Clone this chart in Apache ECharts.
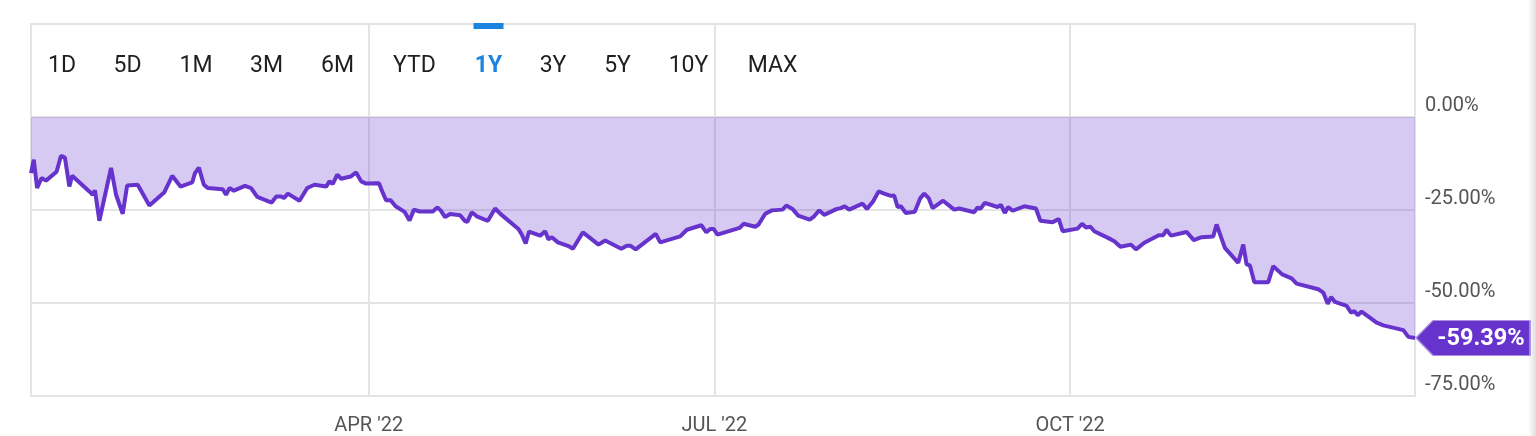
<!DOCTYPE html>
<html>
<head>
<meta charset="utf-8">
<script src="https://cdn.jsdelivr.net/npm/echarts@6/dist/echarts.min.js"></script>
<style>
  html, body { margin: 0; padding: 0; background: #fff; }
  #chart { width: 1536px; height: 436px; }
</style>
</head>
<body>
<div id="chart"></div>
<script>
// x = trading session number (0 = first session of the window), y = % change
var dayIdx = [
  0, 0.5, 1.1, 1.9, 2.7, 4.6, 5.4, 6.1, 6.9, 7.4, 10.5, 11.1, 11.5, 12.3, 14.4, 15.3, 16.5, 17.3, 19.2, 21.3,
  24.0, 25.4, 26.9, 29.0, 29.5, 30.2, 31.1, 31.8, 34.5, 35.1, 35.7, 36.5, 38.5, 39.6, 40.7, 43.3, 44.1, 45.0,
  45.5, 46.2, 48.3, 49.7, 51.0, 53.1, 53.7, 54.3, 55.1, 55.8, 57.5, 58.5, 59.4, 60.3,
  62.6, 63.3, 63.9, 64.7, 65.6, 67.2, 68.1, 68.9, 69.9, 72.3, 73.1, 73.7, 74.5, 75.4, 77.2, 78.1, 78.5, 79.3,
  80.2, 82.2, 83.5, 84.5, 87.7, 88.3, 89.0, 89.6, 91.6, 92.5, 93.1, 93.7, 94.8, 96.7, 97.5, 99.3, 102.1, 103.3,
  106.2, 107.2, 107.8, 108.8, 112.4, 113.2, 116.8, 118.0, 120.6, 121.5, 122.2, 122.8,
  123.5, 127.5, 128.2, 130.3, 130.9, 132.1, 133.3, 135.2, 135.9, 137.0, 138.0, 140.1, 140.9, 141.8, 142.7,
  145.0, 145.7, 146.4, 147.2, 149.6, 150.4, 151.5, 152.5, 153.5, 154.7, 155.3, 155.9, 156.5, 157.4, 159.0,
  160.0, 160.7, 161.5, 162.2, 164.1, 166.1, 167.0, 169.7, 170.3, 170.8, 171.6, 173.9, 174.5, 175.2, 175.8,
  176.6, 178.7, 180.8, 181.6, 183.8, 184.1, 184.9, 185.6,
  188.3, 189.1, 189.8, 190.6, 191.3, 194.3, 194.9, 196.0, 197.9, 198.8, 200.3, 202.9, 203.7, 204.3, 205.1,
  207.9, 209.2, 210.6, 212.7, 213.3, 214.8, 217.2, 217.5, 218.1, 218.7, 219.3, 220.1, 222.6, 223.5, 225.1,
  226.8, 227.7, 231.6, 232.5, 233.3, 233.9, 234.6, 236.7, 237.5, 238.1, 238.7, 239.4, 242.1, 243.3, 246.9,
  247.8, 249
];
var pctChange = [
  -15.1, -11.5, -19.1, -16.4, -17.1, -14.7, -10.4, -10.9, -18.7, -15.8, -20.0, -20.9, -19.7, -27.9, -13.7, -20.9, -26.0, -18.4, -18.2, -23.8,
  -20.2, -15.8, -18.7, -17.6, -15.1, -13.6, -18.2, -19.1, -19.4, -20.9, -19.1, -19.8, -18.5, -19.1, -21.5, -23.0, -21.4, -21.4,
  -21.8, -20.6, -22.5, -19.1, -18.2, -18.7, -17.3, -18.0, -15.5, -16.6, -16.0, -14.9, -17.3, -17.9,
  -17.8, -20.4, -22.4, -22.4, -24.0, -25.5, -27.8, -24.9, -25.4, -25.4, -24.3, -25.1, -26.9, -26.1, -26.4, -28.0, -28.2, -25.6,
  -26.7, -27.9, -24.6, -26.1, -30.1, -31.6, -34.0, -30.8, -31.9, -30.7, -32.9, -32.3, -33.7, -34.7, -35.4, -31.0, -34.3, -33.2,
  -35.4, -34.6, -34.6, -35.6, -31.4, -33.7, -32.1, -30.3, -29.1, -31.0, -30.1, -30.1,
  -31.6, -29.8, -28.7, -29.5, -28.9, -26.0, -25.1, -24.9, -23.8, -24.7, -26.5, -27.6, -26.7, -25.1, -26.3,
  -24.7, -24.5, -24.0, -24.9, -23.3, -24.7, -22.7, -20.0, -20.6, -21.2, -21.1, -24.2, -24.0, -25.8, -25.5,
  -21.8, -20.6, -21.8, -24.5, -22.5, -24.9, -24.6, -25.6, -24.3, -24.7, -23.1, -24.2, -23.6, -25.8, -24.2,
  -25.2, -24.0, -24.6, -27.9, -28.3, -28.7, -27.4, -30.7,
  -30.0, -28.7, -29.7, -29.5, -30.7, -32.9, -33.4, -34.9, -34.3, -35.6, -33.8, -31.8, -31.8, -30.3, -31.9,
  -30.9, -33.1, -32.3, -32.1, -28.9, -35.2, -39.2, -39.6, -34.3, -39.6, -39.9, -44.4, -44.4, -40.1, -42.3,
  -43.4, -44.8, -46.3, -47.2, -50.2, -48.4, -49.7, -50.8, -52.6, -52.2, -53.3, -52.3, -55.3, -56.0, -57.3,
  -59.1, -59.39
];

// month boundaries on the session scale, and their labels
var monthTicks = [60.75, 122.95, 186.95];
var monthLabels = ["APR '22", "JUL '22", "OCT '22"];

var rangeButtons = ['1D', '5D', '1M', '3M', '6M', 'YTD', '1Y', '3Y', '5Y', '10Y', 'MAX'];
var activeRange = '1Y';

var purple = '#6633cc';
var seriesData = [];
for (var i = 0; i < Math.min(dayIdx.length, pctChange.length); i++) {
  seriesData.push([dayIdx[i], pctChange[i]]);
}
var last = seriesData[seriesData.length - 1];

// range selector row (UI chrome, not data)
var buttonX = [62, 127.5, 196, 266.5, 337.5, 414.5, 488.5, 553, 617.5, 688.5, 772.5];
var graphics = [];
rangeButtons.forEach(function (b, k) {
  var on = b === activeRange;
  graphics.push({
    type: 'text', x: buttonX[k], y: 66, z: 10,
    style: {
      text: b, align: 'center', verticalAlign: 'middle',
      font: (on ? 'bold ' : '') + '23px Roboto',
      fill: on ? '#1a84e0' : '#1f1f1f'
    }
  });
  if (on) {
    graphics.push({
      type: 'rect', z: 10,
      shape: { x: buttonX[k] - 15, y: 23, width: 30, height: 6 },
      style: { fill: '#1a84e0' }
    });
  }
});
graphics.push({
  type: 'rect', z: 0,
  shape: { x: 1528, y: 0, width: 8, height: 436 },
  style: {
    fill: new echarts.graphic.LinearGradient(0, 0, 1, 0, [
      { offset: 0, color: 'rgba(0,0,0,0)' },
      { offset: 1, color: 'rgba(0,0,0,0.13)' }
    ])
  }
});

var myChart = echarts.init(document.getElementById('chart'));
myChart.setOption({
  animation: false,
  backgroundColor: '#fff',
  grid: {
    left: 31, right: 121, top: 24, bottom: 39,
    show: true, borderColor: '#e4e4e4', borderWidth: 2
  },
  xAxis: {
    type: 'value',
    min: 0,
    max: 249,
    axisLine: { show: false },
    axisTick: { show: false, customValues: monthTicks },
    axisLabel: {
      customValues: monthTicks,
      margin: 20,
      color: '#555',
      fontFamily: 'Roboto',
      fontSize: 20,
      formatter: function (v) {
        var k = monthTicks.indexOf(v);
        return k >= 0 ? monthLabels[k] : '';
      }
    },
    splitLine: { show: true, lineStyle: { color: '#e4e4e4', width: 2 } }
  },
  yAxis: {
    type: 'value',
    position: 'right',
    min: -75,
    max: 25,
    interval: 25,
    axisLine: { show: false },
    axisTick: { show: false },
    axisLabel: {
      margin: 10,
      color: '#555',
      fontFamily: 'Roboto',
      fontSize: 20,
      verticalAlign: 'bottom',
      padding: [0, 0, 1, 0],
      formatter: function (v) { return v > 0 ? '' : v.toFixed(2) + '%'; }
    },
    splitLine: { show: true, lineStyle: { color: '#e4e4e4', width: 2 } }
  },
  graphic: graphics,
  series: [{
    type: 'line',
    data: seriesData,
    showSymbol: false,
    symbol: 'none',
    lineStyle: { color: purple, width: 4 },
    areaStyle: { color: 'rgba(102,51,204,0.26)', opacity: 1 },
    markPoint: {
      symbol: 'path://M0,17.5 L17,0 L114,0 L114,35 L17,35 Z',
      symbolSize: [114, 35],
      symbolOffset: [58, 0],
      itemStyle: { color: purple, borderColor: '#a98be0', borderWidth: 1 },
      label: {
        show: true,
        color: '#fff',
        fontFamily: 'Roboto',
        fontWeight: 'bold',
        fontSize: 23.5,
        offset: [8, 1],
        formatter: function (p) { return p.value.toFixed(2) + '%'; }
      },
      data: [{ coord: last, value: last[1] }]
    }
  }]
});
</script>
</body>
</html>
